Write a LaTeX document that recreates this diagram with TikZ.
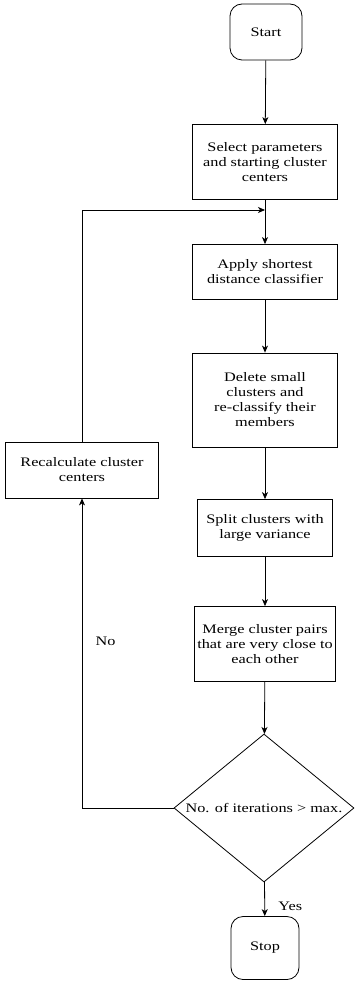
\documentclass[tikz,border=0pt]{standalone}
\usepackage{fontspec}
\setmainfont{Liberation Serif}[FakeStretch=1.25]
\usetikzlibrary{arrows.meta,shapes.geometric}

\begin{document}
\begin{tikzpicture}[x=1pt, y=-1pt, >={Stealth[length=7pt,width=6pt,inset=2pt]}, line width=0.8pt,
    every node/.style={font=\fontsize{13}{15}\selectfont},
    term/.style={shape=rectangle, rounded corners=12pt, draw=black},
    box/.style={shape=rectangle, draw=black, align=center, inner sep=2pt},
    test/.style={shape=diamond, draw=black, aspect=1.2, inner sep=0pt}]
        \useasboundingbox (0,0) rectangle (354,984);

        \node[term, minimum width=72pt, minimum height=56pt] (S) at (266,32) {Start};
        \node[box, minimum width=145pt, minimum height=75pt] (P) at (265,162) {Select parameters\\and starting cluster\\centers};
        \node[box, minimum width=145pt, minimum height=55pt] (A) at (265,272) {Apply shortest\\distance classifier};
        \node[box, minimum width=145pt, minimum height=94pt] (D) at (265,400) {Delete small\\clusters and\\re-classify their\\members};
        \node[box, minimum width=135pt, minimum height=57pt] (L) at (265,528) {Split clusters with\\large variance};
        \node[box, minimum width=141pt, minimum height=75pt] (M) at (265,644) {Merge cluster pairs\\that are very close to\\each other};
        \node[test, minimum width=180pt, minimum height=148pt] (T) at (264,808) {No. of iterations > max.};
        \node[term, minimum width=68pt, minimum height=63pt] (E) at (265,948) {Stop};
        \node[box, minimum width=153pt, minimum height=56pt] (R) at (82,470) {Recalculate cluster\\centers};
        \coordinate (J) at (265,210);

        \path [->] (S) edge (P);
        \path [->] (P) edge (A);
        \path [->] (A) edge (D);
        \path [->] (D) edge (L);
        \path [->] (L) edge (M);
        \path [->] (M) edge (T);
        \path [->] (T) edge node[pos=0.7, right=10pt] {Yes} (E);
        \draw [->] (T.west) -| node[pos=0.77, right=10pt] {No} (R.south);
        \draw [->] (R.north) |- (J);
    \end{tikzpicture}
\end{document}
